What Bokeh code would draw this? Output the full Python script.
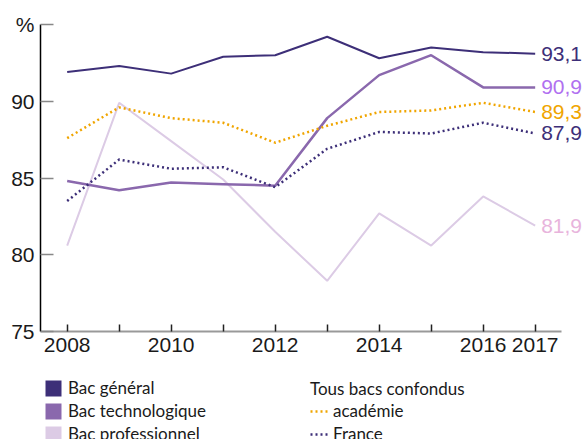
from bokeh.plotting import figure
from bokeh.embed import file_html
from bokeh.resources import INLINE
from bokeh.layouts import column
from bokeh.models import FixedTicker, Legend, LegendItem, Label, Range1d

years = [2008, 2009, 2010, 2011, 2012, 2013, 2014, 2015, 2016, 2017]
bac_general = [91.9, 92.3, 91.8, 92.9, 93.0, 94.2, 92.8, 93.5, 93.2, 93.1]
bac_techno = [84.8, 84.2, 84.7, 84.6, 84.5, 88.9, 91.7, 93.0, 90.9, 90.9]
bac_pro = [80.6, 89.9, 87.4, 84.9, 81.5, 78.3, 82.7, 80.6, 83.8, 81.9]
tous_academie = [87.6, 89.6, 88.9, 88.6, 87.3, 88.4, 89.3, 89.4, 89.9, 89.3]
tous_france = [83.5, 86.2, 85.6, 85.7, 84.4, 86.9, 88.0, 87.9, 88.6, 87.9]

y_ticks = [75, 80, 85, 90, 95]
y_tick_labels = {95: "%"}
x_tick_labels = {2008: "2008", 2010: "2010", 2012: "2012", 2014: "2014", 2016: "2016", 2017: "2017"}

C_GEN = "#3d2f78"
C_TECH = "#8a68ad"
C_PRO = "#dccbe5"
C_ACA = "#f0a500"
C_FR = "#3d2f78"

FONT = "Liberation Sans"
NARROW = "Lato"

p = figure(width=582, height=372, output_backend="svg", toolbar_location=None,
           x_range=Range1d(2007.487, 2017.91), y_range=Range1d(75, 95),
           min_border_left=40, min_border_right=0, min_border_top=24, min_border_bottom=41)
p.outline_line_color = None
p.xgrid.visible = False
p.ygrid.visible = False
p.background_fill_color = "white"
p.border_fill_color = "white"

# y axis
p.yaxis.ticker = FixedTicker(ticks=y_ticks)
p.yaxis.major_label_overrides = {t: y_tick_labels.get(t, str(t)) for t in y_ticks}
p.yaxis.axis_line_color = "black"
p.yaxis.axis_line_width = 1.5
p.yaxis.major_tick_in = 13
p.yaxis.major_tick_out = 0
p.yaxis.major_tick_line_color = "#888888"
p.yaxis.major_tick_line_width = 1.5
p.yaxis.minor_tick_line_color = None
p.yaxis.major_label_text_font = FONT
p.yaxis.major_label_text_font_size = "21px"
p.yaxis.major_label_text_color = "#1a1a1a"
p.yaxis.major_label_standoff = 6

# x axis
p.xaxis.ticker = FixedTicker(ticks=years)
p.xaxis.bounds = (2007.487, 2017.5)
p.xaxis.major_label_overrides = {y: x_tick_labels.get(y, "") for y in years}
p.xaxis.axis_line_color = "#999999"
p.xaxis.axis_line_width = 2
p.xaxis.major_tick_in = 7
p.xaxis.major_tick_out = 0
p.xaxis.major_tick_line_color = "#222222"
p.xaxis.major_tick_line_width = 1.5
p.xaxis.minor_tick_line_color = None
p.xaxis.major_label_text_font = FONT
p.xaxis.major_label_text_font_size = "21px"
p.xaxis.major_label_text_color = "#1a1a1a"
p.xaxis.major_label_standoff = 6

p.line(years, bac_pro, line_color=C_PRO, line_width=2)
p.line(years, bac_techno, line_color=C_TECH, line_width=2.5)
p.line(years, tous_france, line_color=C_FR, line_width=2.5, line_dash="2 3")
p.line(years, tous_academie, line_color=C_ACA, line_width=2.5, line_dash="2 3")
p.line(years, bac_general, line_color=C_GEN, line_width=2)

# end-value labels
end_specs = [(bac_general, C_GEN), (bac_techno, "#b070f0"), (tous_academie, C_ACA),
             (tous_france, C_FR), (bac_pro, "#e8b4dc")]
for series, col in end_specs:
    p.add_layout(Label(x=years[-1], y=series[-1], text=f"{series[-1]:.1f}".replace(".", ","),
                       x_offset=6, text_baseline="middle", text_align="left",
                       text_font=FONT, text_font_size="21px", text_color=col))

# legend panel (its renderers sit outside its own 0..1 view, only their legend swatches show)
q = figure(width=582, height=67, output_backend="svg", toolbar_location=None,
           x_range=Range1d(0, 1), y_range=Range1d(0, 1),
           x_axis_type=None, y_axis_type=None,
           min_border_left=0, min_border_right=0, min_border_top=0, min_border_bottom=0)
q.outline_line_color = None
q.xgrid.visible = False
q.ygrid.visible = False
q.background_fill_color = "white"
q.border_fill_color = "white"

sw_gen = q.quad(left=years, right=years, top=bac_general, bottom=bac_general,
                fill_color=C_GEN, line_color=None)
sw_tech = q.quad(left=years, right=years, top=bac_techno, bottom=bac_techno,
                 fill_color=C_TECH, line_color=None)
sw_pro = q.quad(left=years, right=years, top=bac_pro, bottom=bac_pro,
                fill_color=C_PRO, line_color=None)
sw_aca = q.line(x=years, y=tous_academie, line_color=C_ACA, line_width=2.5, line_dash="2 3")
sw_fr = q.line(x=years, y=tous_france, line_color=C_FR, line_width=2.5, line_dash="2 3")

leg1 = Legend(items=[LegendItem(label="Bac général", renderers=[sw_gen]),
                     LegendItem(label="Bac technologique", renderers=[sw_tech]),
                     LegendItem(label="Bac professionnel", renderers=[sw_pro])],
              location=(3, -5), margin=0, padding=0, spacing=2,
              glyph_width=20, glyph_height=20, label_height=20, label_standoff=5,
              label_text_font=NARROW, label_text_font_size="17px", label_text_color="#1a1a1a",
              border_line_alpha=0, background_fill_alpha=0)
leg2 = Legend(items=[LegendItem(label="académie", renderers=[sw_aca]),
                     LegendItem(label="France", renderers=[sw_fr])],
              title="Tous bacs confondus", title_text_font=NARROW, title_text_font_size="17px",
              title_text_font_style="normal", title_text_color="#1a1a1a", title_standoff=1,
              location=(270, -5), margin=0, padding=0, spacing=2,
              glyph_width=20, glyph_height=20, label_height=20, label_standoff=3,
              label_text_font=NARROW, label_text_font_size="17px", label_text_color="#1a1a1a",
              border_line_alpha=0, background_fill_alpha=0)
q.add_layout(leg1)
q.add_layout(leg2)

layout = column(p, q, spacing=0)
open("out.html", "w").write(file_html(layout, INLINE))
